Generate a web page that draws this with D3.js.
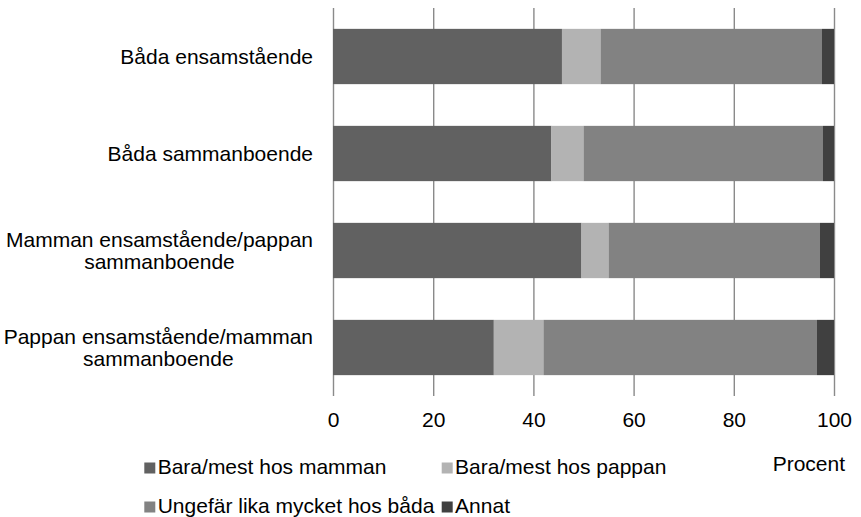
<!DOCTYPE html>
<html>
<head>
<meta charset="utf-8">
<script src="https://cdn.jsdelivr.net/npm/d3@7"></script>
<style>
  html, body { margin: 0; padding: 0; background: #fff; }
  svg { display: block; }
  text { font-family: "Liberation Sans", Arial, sans-serif; fill: #000; }
</style>
</head>
<body>
<svg id="chart" width="861" height="517"></svg>
<script>
// ---- data ----
const categories = [
  "Båda ensamstående",
  "Båda sammanboende",
  "Mamman ensamstående/pappan|sammanboende",
  "Pappan ensamstående/mamman|sammanboende"
];
const seriesNames = [
  "Bara/mest hos mamman",
  "Bara/mest hos pappan",
  "Ungefär lika mycket hos båda",
  "Annat"
];
const mamma = [45.7, 43.6, 49.6, 32.1];
const pappa = [7.7, 6.4, 5.4, 9.9];
const lika  = [44.2, 47.8, 42.2, 54.6];
const annat = [2.4, 2.2, 2.8, 3.4];
const xTicks = [0, 20, 40, 60, 80, 100];
const axisTitle = "Procent";

const colors = ["#616161", "#b3b3b3", "#828282", "#404040"];

// ---- build table ----
const keys = ["mamma", "pappa", "lika", "annat"];
const table = categories.map((c, i) => ({
  cat: c, mamma: mamma[i], pappa: pappa[i], lika: lika[i], annat: annat[i]
}));

const svg = d3.select("#chart");
const fontSize = 21;

const x = d3.scaleLinear().domain([0, 100]).range([333, 834]);
const y = d3.scaleBand().domain(categories).range([8, 396])
  .paddingInner(0.43).paddingOuter(0.215);

// gridlines via axis
const axis = d3.axisBottom(x).tickValues(xTicks).tickSize(-(396 - 8)).tickFormat(d3.format("d"));
const gAxis = svg.append("g").attr("transform", "translate(0,396)").call(axis);
gAxis.select(".domain").remove();
gAxis.selectAll(".tick line").attr("stroke", "#8a8a8a").attr("stroke-width", 1.4);
gAxis.selectAll(".tick text")
  .attr("y", 31).attr("dy", 0)
  .style("font-size", fontSize + "px")
  .style("font-family", '"Liberation Sans", Arial, sans-serif')
  .attr("fill", "#000");

// bars
const stacked = d3.stack().keys(keys)(table);
svg.append("g").selectAll("g")
  .data(stacked)
  .join("g")
  .attr("fill", (d, i) => colors[i])
  .selectAll("rect")
  .data(d => d)
  .join("rect")
  .attr("x", d => x(d[0]))
  .attr("width", d => x(d[1]) - x(d[0]))
  .attr("y", d => y(d.data.cat))
  .attr("height", y.bandwidth());

// category labels
const lineH = 22.6;
const rightEdge = 313;
const gLab = svg.append("g");
categories.forEach(c => {
  const lines = c.split("|");
  const cy = y(c) + y.bandwidth() / 2;
  const t = gLab.append("text").style("font-size", fontSize + "px");
  const n = lines.length;
  const spans = lines.map((ln, k) => t.append("tspan").text(ln)
      .attr("y", cy + (k - (n - 1) / 2) * lineH + fontSize * 0.35));
  if (n === 1) {
    t.attr("text-anchor", "end");
    spans[0].attr("x", rightEdge);
  } else {
    const w = Math.max(...spans.map(s => s.node().getComputedTextLength()));
    const cx = rightEdge - w / 2;
    t.attr("text-anchor", "middle");
    spans.forEach(s => s.attr("x", cx));
  }
});

// axis title
svg.append("text").attr("x", 845).attr("y", 471).attr("text-anchor", "end")
  .style("font-size", fontSize + "px").text(axisTitle);

// legend
const legPos = [
  {x: 144.3, y: 474}, {x: 441.7, y: 474},
  {x: 144.3, y: 513}, {x: 441.7, y: 513}
];
const gLeg = svg.append("g");
seriesNames.forEach((s, i) => {
  const p = legPos[i];
  gLeg.append("rect").attr("x", p.x).attr("y", p.y - 11.5).attr("width", 11).attr("height", 11)
    .attr("fill", colors[i]);
  gLeg.append("text").attr("x", p.x + 13.4).attr("y", p.y)
    .style("font-size", fontSize + "px").text(s);
});
</script>
</body>
</html>
